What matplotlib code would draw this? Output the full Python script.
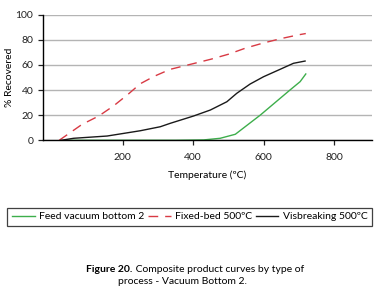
import matplotlib
matplotlib.use("Agg")
import matplotlib.pyplot as plt

# Feed vacuum bottom 2 (green)
feed_t = [45, 200, 350, 430, 477, 520, 591, 675, 704, 720]
feed_v = [0, 0, 0, 0.3, 1.6, 4.8, 20.1, 40.0, 46.7, 52.8]

# Fixed-bed 500ºC (red dashed)
fixed_t = [20, 85, 132, 174, 217, 250, 290, 335, 400, 450, 500, 550, 600, 650, 700, 720]
fixed_v = [0, 12.7, 19.3, 27.3, 37.0, 45.0, 51.0, 56.5, 61.0, 64.5, 68.5, 73.5, 77.5, 81.0, 84.0, 85.0]

# Visbreaking 500ºC (black)
visb_t = [25, 61, 156, 250, 307, 335, 401, 449, 496, 524, 562, 600, 647, 685, 718]
visb_v = [0, 1.6, 3.4, 7.6, 10.8, 13.5, 19.3, 24.1, 30.7, 37.4, 44.8, 50.6, 56.5, 61.3, 63.1]

labels = ["Feed vacuum bottom 2", "Fixed-bed 500ºC", "Visbreaking 500ºC"]

plt.rcParams['font.family'] = ['Lato', 'DejaVu Sans']

fig = plt.figure(figsize=(3.79, 2.92), dpi=100)
ax = fig.add_axes([43 / 379, 1 - 140.3 / 292, (372 - 43) / 379, (140.3 - 14.7) / 292])

l1, = ax.plot(feed_t, feed_v, color="#3dae4b", lw=1.0)
l2, = ax.plot(fixed_t, fixed_v, color="#d83a44", lw=1.0, dashes=(7, 5))
l3, = ax.plot(visb_t, visb_v, color="#1a1a1a", lw=1.0)

ax.set_xlim(-26, 908)
ax.set_ylim(0, 100)
ax.set_xticks([200, 400, 600, 800])
ax.set_yticks(range(0, 101, 20))
ax.yaxis.grid(True, color="#b4b4b4", lw=1.0)
ax.set_axisbelow(True)
for s in ["top", "right"]:
    ax.spines[s].set_visible(False)
ax.spines["left"].set_linewidth(1.0)
ax.spines["bottom"].set_linewidth(1.0)
ax.tick_params(axis="both", labelsize=7.5, length=3.5, width=0.9, colors="#222222")
ax.tick_params(axis="x", pad=6)
ax.set_xlabel("Temperature (ºC)", fontsize=7.5, labelpad=6)
ax.set_ylabel("% Recovered", fontsize=7.5, labelpad=1)

leg = fig.legend([l1, l2, l3], labels, loc="center", ncol=3,
                 bbox_to_anchor=(7.5 / 379, 1 - 229.5 / 292, 364 / 379, 25.5 / 292),
                 mode="expand", fontsize=7.5, frameon=True, fancybox=False,
                 handlelength=2.2, handletextpad=0.4, borderaxespad=0, columnspacing=1.0)
leg.get_frame().set_edgecolor("#111111")
leg.get_frame().set_linewidth(0.9)

# caption
fig.canvas.draw()
r = fig.canvas.get_renderer()
y1 = 1 - 270 / 292
t1 = fig.text(0, y1, "Figure 20.", fontsize=7.5, fontweight="bold", va="center")
t2 = fig.text(0, y1, " Composite product curves by type of", fontsize=7.5, va="center")
w1 = t1.get_window_extent(r).width / fig.bbox.width
w2 = t2.get_window_extent(r).width / fig.bbox.width
x0 = 195 / 379 - (w1 + w2) / 2
t1.set_x(x0)
t2.set_x(x0 + w1)
fig.text(182 / 379, 1 - 282 / 292, "process - Vacuum Bottom 2.", fontsize=7.5, ha="center", va="center")

fig.savefig("out.png", dpi=100)
